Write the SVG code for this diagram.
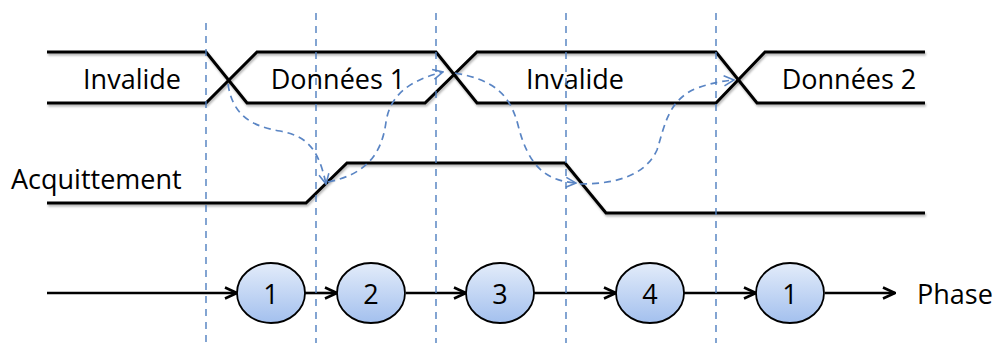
<svg xmlns="http://www.w3.org/2000/svg" width="1000" height="347" viewBox="0 0 1000 347">
<defs>
<linearGradient id="bub" x1="0" y1="0" x2="0" y2="1">
<stop offset="0" stop-color="#e3ecfa"/>
<stop offset="1" stop-color="#a3c0ee"/>
</linearGradient>
<marker id="ah" viewBox="0 0 14 14" refX="13" refY="7" markerWidth="14" markerHeight="14" markerUnits="userSpaceOnUse" orient="auto">
<path d="M1,1.5 L13,7 L1,12.5" fill="none" stroke="#000" stroke-width="2.6"/>
</marker>
<marker id="bh" viewBox="0 0 12 12" refX="11" refY="6" markerWidth="12" markerHeight="12" markerUnits="userSpaceOnUse" orient="auto">
<path d="M1,1 L11,6 L1,11" fill="none" stroke="#5a85c4" stroke-width="1.6"/>
</marker>
<filter id="sh" x="-5%" y="-20%" width="110%" height="140%">
<feDropShadow dx="1" dy="2" stdDeviation="1.2" flood-color="#000" flood-opacity="0.3"/>
</filter>
</defs>
<style>
.sig{fill:none;stroke:#000;stroke-width:3;stroke-linejoin:miter;filter:url(#sh)}
.lbl{font-family:"Open Sans","Liberation Sans",sans-serif;font-size:27px;fill:#000}
.num{font-family:"Open Sans","Liberation Sans",sans-serif;font-size:27px;fill:#000;text-anchor:middle}
.vline{stroke:#4f7fbf;stroke-width:1.4;stroke-dasharray:7,6;fill:none}
.flow{stroke:#5a85c4;stroke-width:1.7;stroke-dasharray:7,5;fill:none;marker-end:url(#bh)}
.arr{stroke:#000;stroke-width:2.6;fill:none;marker-end:url(#ah)}
.bubble{fill:url(#bub);stroke:#000;stroke-width:1.8}
</style>

<g id="data-bus">
<path class="sig" d="M47,52 H206 L247,103 H425 L477,52 H716 L757,103 H925"/>
<path class="sig" d="M47,103 H206 L257,52 H436 L477,103 H716 L765,52 H925"/>
<text class="lbl" x="132" y="89" text-anchor="middle">Invalide</text>
<text class="lbl" x="338" y="89" text-anchor="middle">Données 1</text>
<text class="lbl" x="575" y="89" text-anchor="middle">Invalide</text>
<text class="lbl" x="849" y="89" text-anchor="middle">Données 2</text>
</g>

<g id="ack">
<path class="sig" d="M47,203 H306 L347,163 H565 L606,213 H925"/>
<text class="lbl" x="11" y="189">Acquittement</text>
</g>

<g id="connectors">
<line class="arr" x1="47" y1="293" x2="237" y2="293"/>
<line class="arr" x1="305" y1="293" x2="337" y2="293"/>
<line class="arr" x1="406" y1="293" x2="466" y2="293"/>
<line class="arr" x1="534" y1="293" x2="616" y2="293"/>
<line class="arr" x1="684" y1="293" x2="756" y2="293"/>
<line class="arr" x1="825" y1="293" x2="895" y2="293"/>
<path class="flow" d="M228,84 C232,112 248,126 280,131 C305,136 318,146 326,184"/>
<path class="flow" d="M328,182 C368,174 382,152 386,122 C390,95 410,80 443,72"/>
<path class="flow" d="M455,73 C495,80 510,95 518,125 C528,165 545,181 576,183"/>
<path class="flow" d="M580,184 C615,184 645,176 657,150 C665,125 668,100 697,88 C712,83 722,81 734,80"/>
</g>

<g id="phase1"><ellipse class="bubble" cx="271" cy="293" rx="34" ry="30"/><text class="num" x="271" y="304">1</text></g>
<g id="phase2"><ellipse class="bubble" cx="371" cy="293" rx="34" ry="30"/><text class="num" x="371" y="304">2</text></g>
<g id="phase3"><ellipse class="bubble" cx="500" cy="293" rx="34" ry="30"/><text class="num" x="500" y="304">3</text></g>
<g id="phase4"><ellipse class="bubble" cx="650" cy="293" rx="34" ry="30"/><text class="num" x="650" y="304">4</text></g>
<g id="phase1b"><ellipse class="bubble" cx="790" cy="293" rx="34" ry="30"/><text class="num" x="790" y="304">1</text></g>
<text class="lbl" x="917" y="304">Phase</text>

<g id="time-markers">
<line class="vline" x1="206" y1="23" x2="206" y2="343"/>
<line class="vline" x1="316" y1="13" x2="316" y2="343"/>
<line class="vline" x1="436" y1="13" x2="436" y2="343"/>
<line class="vline" x1="566" y1="13" x2="566" y2="343"/>
<line class="vline" x1="716" y1="13" x2="716" y2="343"/>
</g>
</svg>
